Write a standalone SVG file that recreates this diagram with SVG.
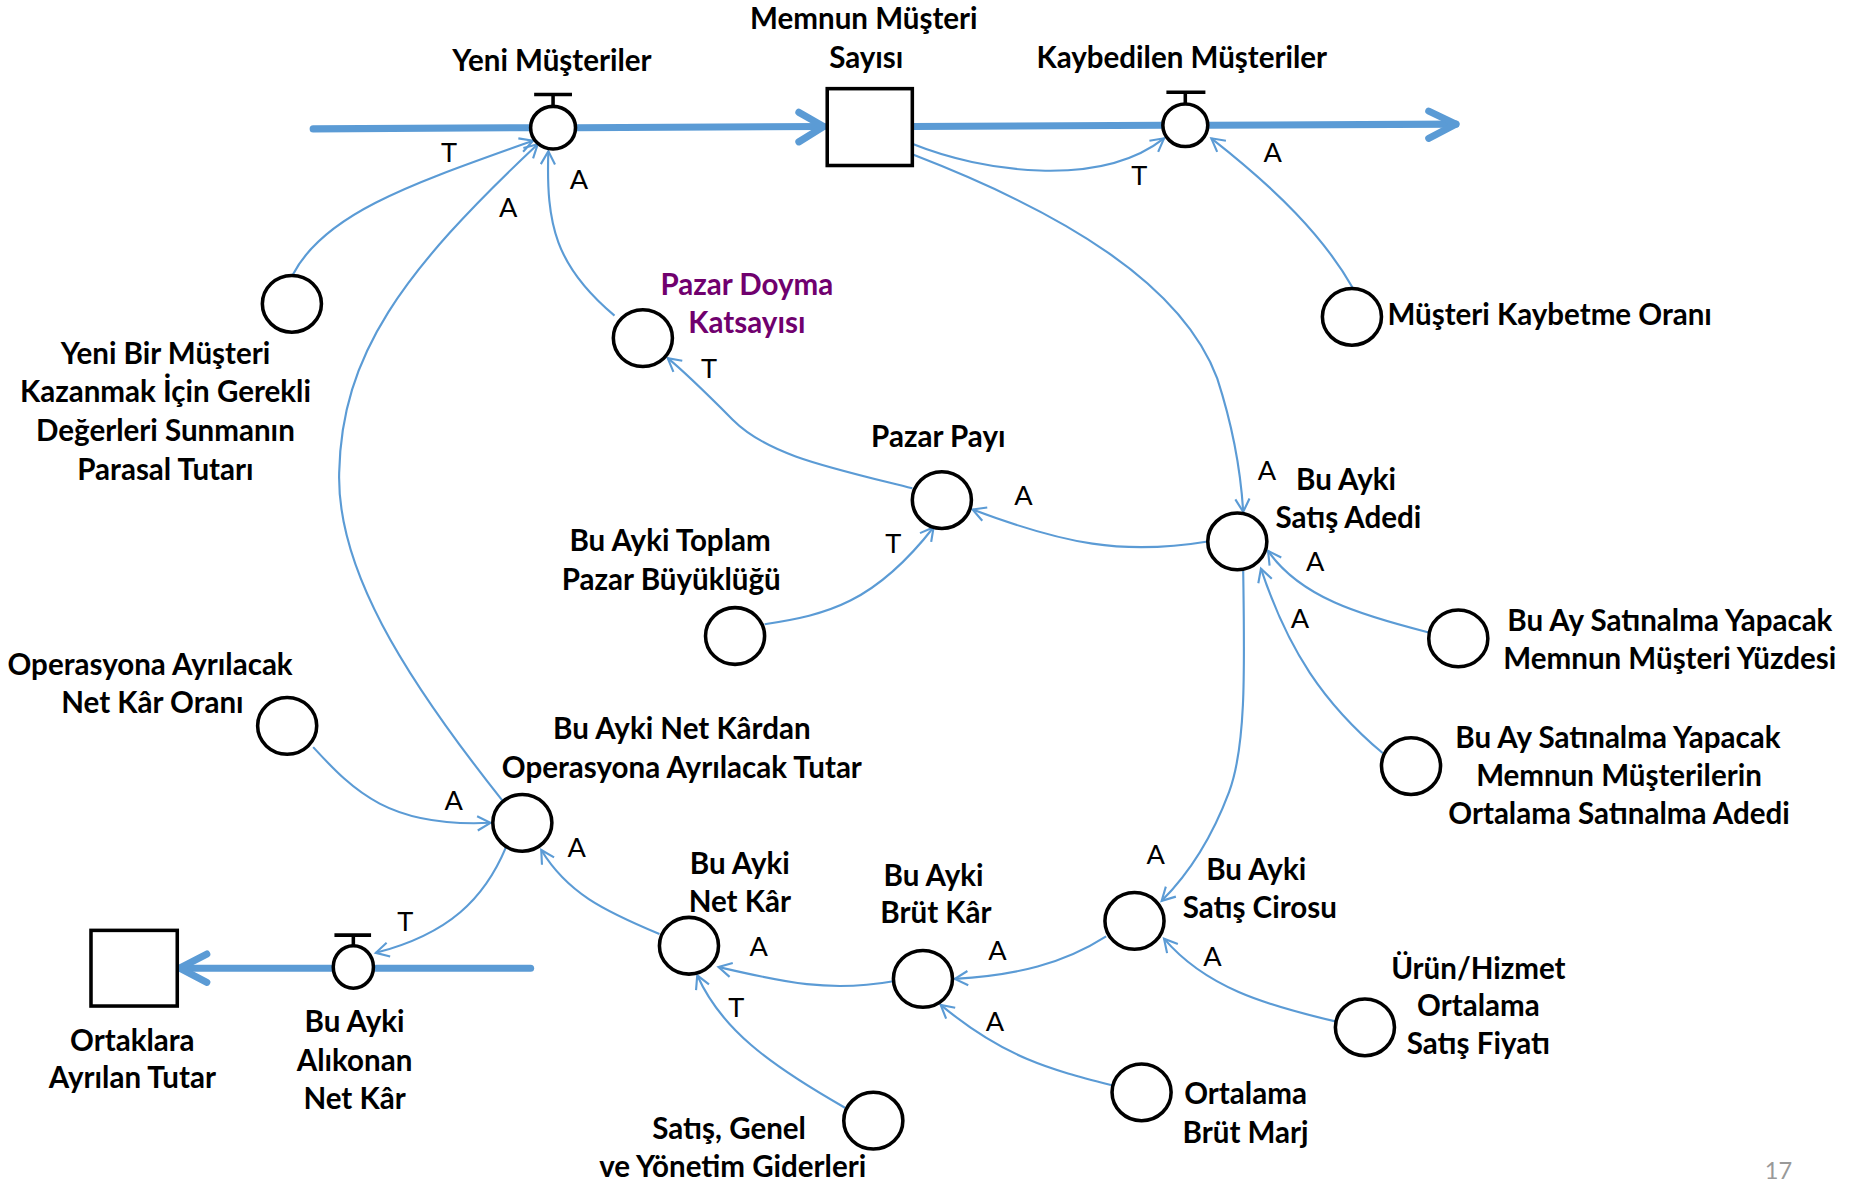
<svg xmlns="http://www.w3.org/2000/svg" width="1853" height="1181" viewBox="0 0 1853 1181">
<style>
.lbl{font-family:Lato,"Open Sans","Liberation Sans",sans-serif;font-weight:bold;font-size:25px;fill:#000;text-anchor:middle;dominant-baseline:central}
.lft{text-anchor:start}
.pur{fill:#70006E}
.pol{font-family:Lato,"Liberation Sans",sans-serif;font-size:23px;fill:#000;text-anchor:middle;dominant-baseline:central}
.aux{fill:#fff;stroke:#000;stroke-width:3}
.stk{fill:#fff;stroke:#000;stroke-width:3}
.pipe{fill:none;stroke:#5B9BD5;stroke-width:6;stroke-linecap:round;stroke-linejoin:round}
.bar{stroke:#000;stroke-width:3;fill:none}
.lnk{fill:none;stroke:#5B9BD5;stroke-width:1.8;marker-end:url(#arr)}
</style>
<defs>
<marker id="arr" markerWidth="16" markerHeight="16" refX="13" refY="8" orient="auto" markerUnits="userSpaceOnUse">
<path d="M2,2 L13,8 L2,14" fill="none" stroke="#5B9BD5" stroke-width="1.8"/>
</marker>
</defs>
<rect width="1853" height="1181" fill="#fff"/>
<g transform="scale(1.18176,1.18218)">
<g id="pipes">
<path class="pipe" d="M265,109 L449,108"/>
<path class="pipe" d="M487,108 L697,107"/>
<path class="pipe" d="M676,95 L697,107 L676,120"/>
<path class="pipe" d="M772,107 L984,106"/>
<path class="pipe" d="M1022,106 L1232,105"/>
<path class="pipe" d="M1209,94 L1232,105 L1209,117"/>
<path class="pipe" d="M449,819 L318,819"/>
<path class="pipe" d="M280,819 L152,819"/>
<path class="pipe" d="M175,807 L152,819 L175,831"/>
</g>
<g id="connectors">
<path class="lnk" d="M248,232 C275,180 350,155 451,119"/>
<path class="lnk" d="M425,677 C340,570 285,480 287,400 C289,300 340,230 455,122"/>
<path class="lnk" d="M520,267 C470,225 462,190 464,128"/>
<path class="lnk" d="M773,122 C830,145 930,160 985,117"/>
<path class="lnk" d="M773,131 C900,180 1000,240 1030,320 C1043,360 1050,400 1052,433"/>
<path class="lnk" d="M1145,244 C1120,200 1080,160 1025,117"/>
<path class="lnk" d="M772,413 C700,395 650,385 620,355 C600,335 580,315 565,303"/>
<path class="lnk" d="M647,528 C700,520 740,510 790,446"/>
<path class="lnk" d="M1022,458 C950,470 900,460 823,431"/>
<path class="lnk" d="M1209,535 C1150,520 1100,505 1073,466"/>
<path class="lnk" d="M1170,637 C1120,595 1090,550 1067,481"/>
<path class="lnk" d="M1052,483 C1053,560 1055,630 1040,670 C1025,710 1005,740 983,762"/>
<path class="lnk" d="M1130,864 C1070,850 1020,835 985,794"/>
<path class="lnk" d="M936,792 C900,815 860,825 808,828"/>
<path class="lnk" d="M941,918 C890,905 850,895 796,850"/>
<path class="lnk" d="M756,830 C700,840 660,830 608,818"/>
<path class="lnk" d="M715,937 C650,900 610,870 590,825"/>
<path class="lnk" d="M558,790 C510,770 480,755 458,719"/>
<path class="lnk" d="M265,632 C300,670 330,700 415,696"/>
<path class="lnk" d="M428,717 C410,760 380,790 318,806"/>
</g>
<g id="polarities">
<text class="pol" x="380" y="128">T</text>
<text class="pol" x="490" y="151">A</text>
<text class="pol" x="430" y="175">A</text>
<text class="pol" x="964" y="148">T</text>
<text class="pol" x="1077" y="128">A</text>
<text class="pol" x="600" y="311">T</text>
<text class="pol" x="756" y="459">T</text>
<text class="pol" x="866" y="418">A</text>
<text class="pol" x="1072" y="397">A</text>
<text class="pol" x="1113" y="474">A</text>
<text class="pol" x="1100" y="522">A</text>
<text class="pol" x="978" y="722">A</text>
<text class="pol" x="1026" y="808">A</text>
<text class="pol" x="844" y="803">A</text>
<text class="pol" x="842" y="863">A</text>
<text class="pol" x="642" y="800">A</text>
<text class="pol" x="623" y="851">T</text>
<text class="pol" x="488" y="716">A</text>
<text class="pol" x="384" y="676">A</text>
<text class="pol" x="343" y="779">T</text>
</g>
<g id="yeni-musteriler">
<path class="bar" d="M452,80 L484,80 M468,80 L468,90"/>
<ellipse class="aux" cx="468" cy="108" rx="19" ry="18"/>
<text class="lbl" x="467" y="50">Yeni Müşteriler</text>
</g>
<g id="memnun-musteri-sayisi">
<rect class="stk" x="700" y="75" width="72" height="65"/>
<text class="lbl" x="731" y="15">Memnun Müşteri</text>
<text class="lbl" x="733" y="48">Sayısı</text>
</g>
<g id="kaybedilen-musteriler">
<path class="bar" d="M987,78 L1020,78 M1003,78 L1003,88"/>
<ellipse class="aux" cx="1003" cy="106" rx="19" ry="18"/>
<text class="lbl" x="1000" y="48">Kaybedilen Müşteriler</text>
</g>
<g id="yeni-bir-musteri">
<ellipse class="aux" cx="247" cy="257" rx="25" ry="24"/>
<text class="lbl" x="140" y="298">Yeni Bir Müşteri</text>
<text class="lbl" x="140" y="330">Kazanmak İçin Gerekli</text>
<text class="lbl" x="140" y="363">Değerleri Sunmanın</text>
<text class="lbl" x="140" y="396">Parasal Tutarı</text>
</g>
<g id="pazar-doyma">
<ellipse class="aux" cx="544" cy="286" rx="25" ry="24"/>
<text class="lbl pur" x="632" y="240">Pazar Doyma</text>
<text class="lbl pur" x="632" y="272">Katsayısı</text>
</g>
<g id="musteri-kaybetme">
<ellipse class="aux" cx="1144" cy="268" rx="25" ry="24"/>
<text class="lbl lft" x="1174" y="265">Müşteri Kaybetme Oranı</text>
</g>
<g id="pazar-payi">
<ellipse class="aux" cx="797" cy="423" rx="25" ry="24"/>
<text class="lbl" x="794" y="368">Pazar Payı</text>
</g>
<g id="toplam-pazar">
<ellipse class="aux" cx="622" cy="538" rx="25" ry="24"/>
<text class="lbl" x="567" y="456">Bu Ayki Toplam</text>
<text class="lbl" x="568" y="489">Pazar Büyüklüğü</text>
</g>
<g id="satis-adedi">
<ellipse class="aux" cx="1047" cy="458" rx="25" ry="24"/>
<text class="lbl" x="1139" y="405">Bu Ayki</text>
<text class="lbl" x="1141" y="437">Satış Adedi</text>
</g>
<g id="musteri-yuzdesi">
<ellipse class="aux" cx="1234" cy="540" rx="25" ry="24"/>
<text class="lbl" x="1413" y="524">Bu Ay Satınalma Yapacak</text>
<text class="lbl" x="1413" y="556">Memnun Müşteri Yüzdesi</text>
</g>
<g id="ortalama-satinalma">
<ellipse class="aux" cx="1194" cy="648" rx="25" ry="24"/>
<text class="lbl" x="1369" y="623">Bu Ay Satınalma Yapacak</text>
<text class="lbl" x="1370" y="655">Memnun Müşterilerin</text>
<text class="lbl" x="1370" y="687">Ortalama Satınalma Adedi</text>
</g>
<g id="net-kar-orani">
<ellipse class="aux" cx="243" cy="614" rx="25" ry="24"/>
<text class="lbl" x="127" y="561">Operasyona Ayrılacak</text>
<text class="lbl" x="129" y="593">Net Kâr Oranı</text>
</g>
<g id="operasyon-tutar">
<ellipse class="aux" cx="442" cy="696" rx="25" ry="24"/>
<text class="lbl" x="577" y="615">Bu Ayki Net Kârdan</text>
<text class="lbl" x="577" y="648">Operasyona Ayrılacak Tutar</text>
</g>
<g id="net-kar">
<ellipse class="aux" cx="583" cy="800" rx="25" ry="24"/>
<text class="lbl" x="626" y="730">Bu Ayki</text>
<text class="lbl" x="626" y="762">Net Kâr</text>
</g>
<g id="brut-kar">
<ellipse class="aux" cx="781" cy="828" rx="25" ry="24"/>
<text class="lbl" x="790" y="740">Bu Ayki</text>
<text class="lbl" x="792" y="771">Brüt Kâr</text>
</g>
<g id="satis-cirosu">
<ellipse class="aux" cx="960" cy="779" rx="25" ry="24"/>
<text class="lbl" x="1063" y="735">Bu Ayki</text>
<text class="lbl" x="1066" y="767">Satış Cirosu</text>
</g>
<g id="satis-fiyati">
<ellipse class="aux" cx="1155" cy="869" rx="25" ry="24"/>
<text class="lbl" x="1251" y="818">Ürün/Hizmet</text>
<text class="lbl" x="1251" y="850">Ortalama</text>
<text class="lbl" x="1251" y="882">Satış Fiyatı</text>
</g>
<g id="brut-marj">
<ellipse class="aux" cx="966" cy="924" rx="25" ry="24"/>
<text class="lbl" x="1054" y="924">Ortalama</text>
<text class="lbl" x="1054" y="957">Brüt Marj</text>
</g>
<g id="giderler">
<ellipse class="aux" cx="739" cy="948" rx="25" ry="24"/>
<text class="lbl" x="617" y="954">Satış, Genel</text>
<text class="lbl" x="620" y="986">ve Yönetim Giderleri</text>
</g>
<g id="ortaklara">
<rect class="stk" x="77" y="787" width="73" height="64"/>
<text class="lbl" x="112" y="879">Ortaklara</text>
<text class="lbl" x="112" y="911">Ayrılan Tutar</text>
</g>
<g id="alikonan">
<path class="bar" d="M283,791 L314,791 M299,791 L299,800"/>
<ellipse class="aux" cx="299" cy="818" rx="17" ry="18"/>
<text class="lbl" x="300" y="863">Bu Ayki</text>
<text class="lbl" x="300" y="896">Alıkonan</text>
<text class="lbl" x="300" y="928">Net Kâr</text>
</g>
<text x="1505" y="990" style="font-family:Lato,'Liberation Sans',sans-serif;font-size:20px;fill:#999;text-anchor:middle;dominant-baseline:central">17</text>
</g>
</svg>
